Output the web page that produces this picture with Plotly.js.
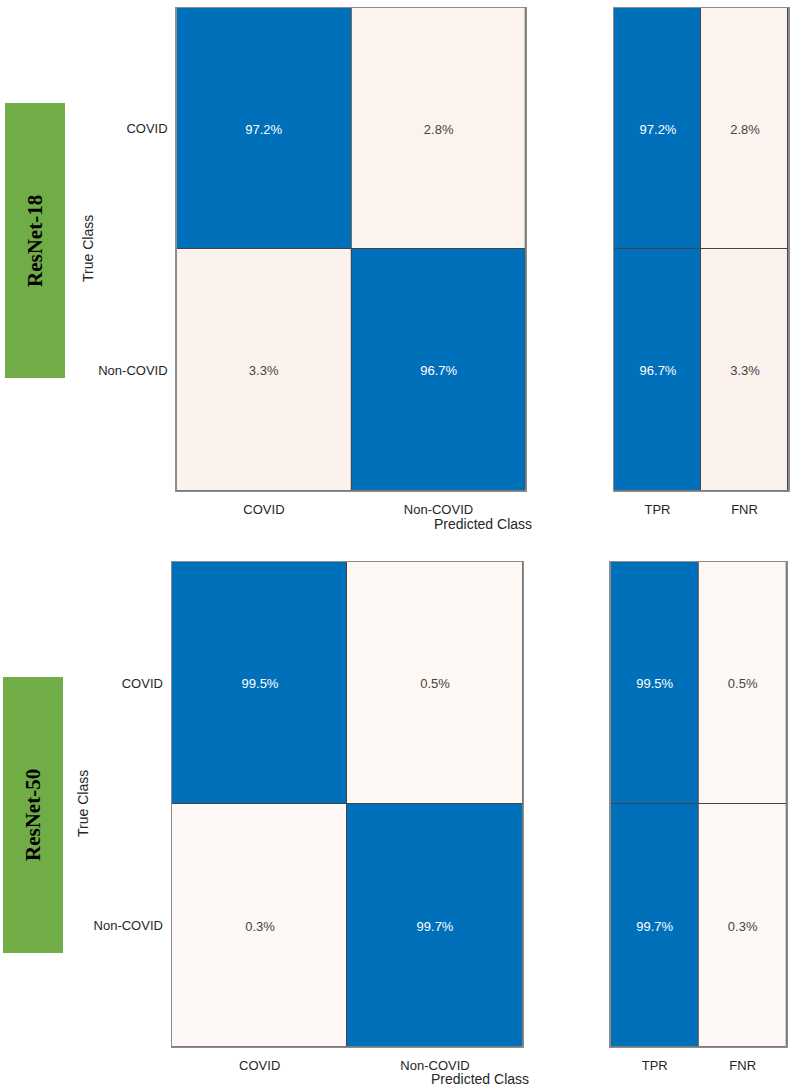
<!DOCTYPE html>
<html>
<head>
<meta charset="utf-8">
<script src="https://cdn.plot.ly/plotly-3.0.1.min.js"></script>
<style>html,body{margin:0;padding:0;background:#fff;}#chart{width:792px;height:1088px;}</style>
</head>
<body>
<div id="chart"></div>
<script>
// ---- data ----
const classes = ['COVID', 'Non-COVID'];
const summaryLabels = ['TPR', 'FNR'];
const resnet18Matrix = [[97.2, 2.8], [3.3, 96.7]];
const resnet18Summary = [[97.2, 2.8], [96.7, 3.3]];
const resnet50Matrix = [[99.5, 0.5], [0.3, 99.7]];
const resnet50Summary = [[99.5, 0.5], [99.7, 0.3]];
const modelNames = ['ResNet-18', 'ResNet-50'];

// ---- layout helpers ----
const W = 792, H = 1088;
const px = v => v / W;
const py = v => 1 - v / H;

const cs = [[0, '#FEF9F7'], [0.035, '#FBF0EC'], [0.9, '#0070BB'], [1, '#0070BB']];
const fontTick = {family: 'Liberation Sans, Arial, sans-serif', size: 13, color: '#262626'};

function hm(z, x, y, xa, ya) {
  return {
    type: 'heatmap', z: z, x: x, y: y, xaxis: xa, yaxis: ya,
    zmin: 0, zmax: 100, colorscale: cs, showscale: false,
    xgap: 1, ygap: 1, hoverinfo: 'skip',
    texttemplate: '%{z:.1f}%', textfont: {family: 'Liberation Sans, Arial, sans-serif', size: 13}
  };
}

const data = [
  hm(resnet18Matrix, classes, classes, 'x', 'y'),
  hm(resnet18Summary, summaryLabels, classes, 'x2', 'y2'),
  hm(resnet50Matrix, classes, classes, 'x3', 'y3'),
  hm(resnet50Summary, summaryLabels, classes, 'x4', 'y4')
];

function xax(d, anchor) {
  return {domain: d, anchor: anchor, type: 'category', showgrid: false, zeroline: false,
    showline: true, mirror: true, linecolor: '#8c8c8c', linewidth: 1.5, ticks: '',
    tickfont: fontTick, ticklabelstandoff: 6, fixedrange: true};
}
function yax(d, anchor, showLabels) {
  return {domain: d, anchor: anchor, type: 'category', autorange: 'reversed', showgrid: false,
    zeroline: false, showline: true, mirror: true, linecolor: '#8c8c8c', linewidth: 1.5,
    ticks: '', showticklabels: showLabels, tickfont: fontTick, ticklabelstandoff: 5, fixedrange: true};
}

const topY = [py(490.7), py(8)];
const botY = [py(1046.7), py(562)];

const titleFont = {family: 'Liberation Sans, Arial, sans-serif', size: 14, color: '#262626'};
const nameFont = {family: 'Liberation Serif, Times New Roman, serif', size: 21, color: '#000'};

const layout = {
  width: W, height: H, margin: {l: 0, r: 0, t: 0, b: 0},
  paper_bgcolor: '#ffffff', plot_bgcolor: '#444444', showlegend: false,
  xaxis: xax([px(176.7), px(525.7)], 'y'),
  yaxis: yax(topY, 'x', true),
  xaxis2: xax([px(614), px(788)], 'y2'),
  yaxis2: yax(topY, 'x2', false),
  xaxis3: xax([px(172), px(522.7)], 'y3'),
  yaxis3: yax(botY, 'x3', true),
  xaxis4: xax([px(610.7), px(786.7)], 'y4'),
  yaxis4: yax(botY, 'x4', false),
  shapes: [
    {type: 'rect', xref: 'paper', yref: 'paper', x0: px(5), x1: px(65), y0: py(378), y1: py(103),
     fillcolor: '#71AD47', line: {width: 0}, layer: 'below'},
    {type: 'rect', xref: 'paper', yref: 'paper', x0: px(3), x1: px(63), y0: py(953), y1: py(677),
     fillcolor: '#71AD47', line: {width: 0}, layer: 'below'}
  ],
  annotations: [
    {xref: 'paper', yref: 'paper', x: px(88), y: py(249), text: 'True Class', textangle: -90,
     showarrow: false, font: titleFont, xanchor: 'center', yanchor: 'middle'},
    {xref: 'paper', yref: 'paper', x: px(83), y: py(804), text: 'True Class', textangle: -90,
     showarrow: false, font: titleFont, xanchor: 'center', yanchor: 'middle'},
    {xref: 'paper', yref: 'paper', x: px(483), y: py(524), text: 'Predicted Class',
     showarrow: false, font: titleFont, xanchor: 'center', yanchor: 'middle'},
    {xref: 'paper', yref: 'paper', x: px(480), y: py(1079), text: 'Predicted Class',
     showarrow: false, font: titleFont, xanchor: 'center', yanchor: 'middle'},
    {xref: 'paper', yref: 'paper', x: px(35), y: py(241), text: '<b>' + modelNames[0] + '</b>', textangle: -90,
     showarrow: false, font: nameFont, xanchor: 'center', yanchor: 'middle'},
    {xref: 'paper', yref: 'paper', x: px(33), y: py(815), text: '<b>' + modelNames[1] + '</b>', textangle: -90,
     showarrow: false, font: nameFont, xanchor: 'center', yanchor: 'middle'}
  ]
};

Plotly.newPlot('chart', data, layout, {displayModeBar: false, staticPlot: true});
</script>
</body>
</html>
